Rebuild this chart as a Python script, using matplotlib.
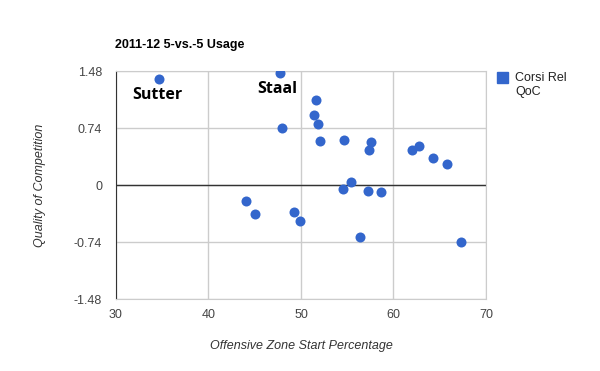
import matplotlib.pyplot as plt
from matplotlib.patches import Rectangle

# Offensive zone start % vs quality of competition (Corsi Rel QoC)
ozone_start = [34.65, 47.7, 48.0, 51.6, 51.4, 51.8, 52.1, 54.65, 57.6, 57.3,
               55.4, 54.5, 57.2, 58.65, 44.1, 45.05, 49.25, 49.9, 56.4, 67.3,
               62.0, 62.75, 64.3, 65.8]
corsi_rel_qoc = [1.38, 1.46, 0.75, 1.11, 0.91, 0.80, 0.58, 0.59, 0.57, 0.46,
                 0.04, -0.05, -0.07, -0.09, -0.20, -0.37, -0.35, -0.46, -0.67, -0.74,
                 0.46, 0.51, 0.35, 0.28]

x_ticks = [30, 40, 50, 60, 70]
y_ticks = [-1.48, -0.74, 0, 0.74, 1.48]
y_tick_labels = ["-1.48", "-0.74", "0", "0.74", "1.48"]

names = ["Sutter", "Staal"]
name_x = [31.8, 45.3]
name_y = [1.17, 1.25]

blue = "#3366cc"
plt.rcParams["font.family"] = ["Liberation Sans", "DejaVu Sans"]

fig = plt.figure(figsize=(6, 3.71), dpi=100)
ax = fig.add_axes([0.1933, 0.1933, 0.6167, 0.614])

ax.scatter(ozone_start, corsi_rel_qoc, s=52, color=blue, zorder=3, linewidths=0)

ax.set_xlim(30, 70)
ax.set_ylim(-1.48, 1.48)
ax.set_xticks(x_ticks)
ax.set_yticks(y_ticks)
ax.set_yticklabels(y_tick_labels)
ax.grid(True, color="#cccccc", linewidth=1)
ax.set_axisbelow(True)
ax.axhline(0, color="#333333", linewidth=1, zorder=2)
ax.tick_params(length=0, labelsize=9, colors="#444444")
ax.tick_params(axis="y", pad=10)
ax.tick_params(axis="x", pad=7)

for side in ["top", "right", "bottom"]:
    ax.spines[side].set_color("#cccccc")
ax.spines["left"].set_color("#333333")

for name, nx, ny in zip(names, name_x, name_y):
    ax.text(nx, ny, name, fontsize=11.5, fontweight="bold", family="Open Sans",
            va="center", ha="left", color="black")

ax.set_xlabel("Offensive Zone Start Percentage", fontsize=9, style="italic",
              color="#333333", labelpad=14)
ax.set_ylabel("Quality of Competition", fontsize=9, style="italic",
              color="#333333", labelpad=20)

fig.text(0.192, 0.878, "2011-12 5-vs.-5 Usage", fontsize=9, fontweight="bold",
         ha="left", va="center")

# legend drawn by hand: square marker with two-line label
fig.patches.append(Rectangle((497 / 600, 1 - 83 / 371), 11 / 600, 11 / 371,
                             transform=fig.transFigure, color=blue))
fig.text(515 / 600, 1 - 78 / 371, "Corsi Rel", fontsize=9, color="#222222",
         va="center", ha="left")
fig.text(515 / 600, 1 - 92 / 371, "QoC", fontsize=9, color="#222222",
         va="center", ha="left")

fig.savefig("out.png", dpi=100)
